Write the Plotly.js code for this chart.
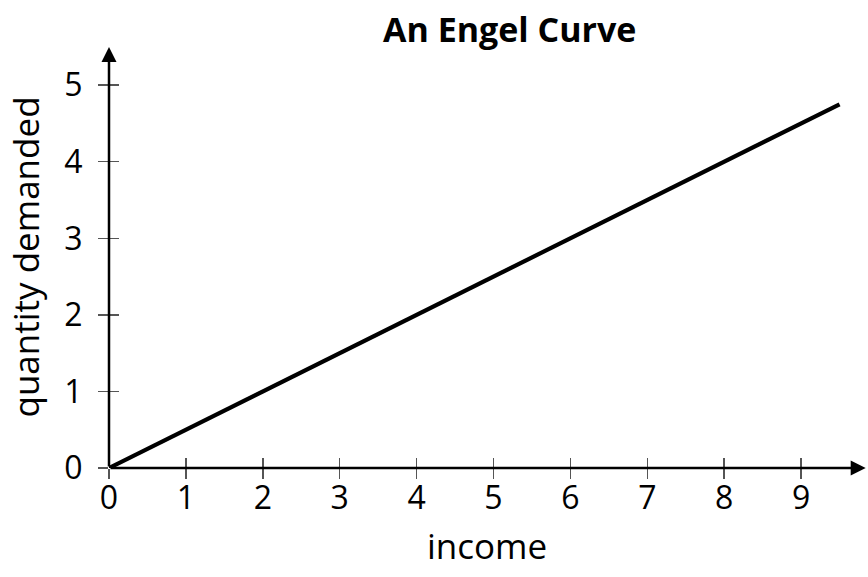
<!DOCTYPE html>
<html>
<head>
<meta charset="utf-8">
<script src="https://cdn.plot.ly/plotly-3.0.1.min.js"></script>
<style>html,body{margin:0;padding:0;background:#fff;}#chart{width:868px;height:577px;}</style>
</head>
<body>
<div id="chart"></div>
<script>
// Engel curve: quantity demanded rises linearly with income
const income = [0, 1, 2, 3, 4, 5, 6, 7, 8, 9, 9.5];
const quantity = [0, 0.5, 1, 1.5, 2, 2.5, 3, 3.5, 4, 4.5, 4.75];
const xTicks = [0, 1, 2, 3, 4, 5, 6, 7, 8, 9];
const yTicks = [0, 1, 2, 3, 4, 5];

const xMax = 9.87, yMax = 5.59;
const font = '"Open Sans", Lato, sans-serif';

const tickCommon = {
  showgrid: false, zeroline: false, showline: false,
  tickcolor: '#555', tickwidth: 1.5, ticklen: 10,
  tickfont: {family: font, size: 32, color: '#000'}
};

const layout = {
  width: 868, height: 577,
  margin: {l: 109, r: 0, t: 40, b: 109},
  paper_bgcolor: '#fff', plot_bgcolor: '#fff',
  showlegend: false,
  title: {text: '<b>An Engel Curve</b>', x: 0.528, xref: 'paper', y: 0.948, yref: 'container',
          xanchor: 'center', yanchor: 'middle', font: {family: font, size: 34, color: '#000'}},
  xaxis: Object.assign({}, tickCommon, {
    range: [0, xMax], tickvals: xTicks, ticktext: xTicks.map(String), ticks: 'outside',
    ticklabelstandoff: -8
  }),
  yaxis: Object.assign({}, tickCommon, {
    range: [0, yMax], tickvals: yTicks, ticktext: yTicks.map(String), ticks: 'outside',
    ticklabelstandoff: 9
  }),
  // overlaid axes carry the inner half of each tick so ticks cross the axis line
  xaxis2: Object.assign({}, tickCommon, {
    overlaying: 'x', range: [0, xMax], tickvals: xTicks, ticks: 'inside',
    showticklabels: false, side: 'bottom', anchor: 'y'
  }),
  yaxis2: Object.assign({}, tickCommon, {
    overlaying: 'y', range: [0, yMax], tickvals: yTicks, ticks: 'inside',
    showticklabels: false, side: 'left', anchor: 'x'
  }),
  annotations: [
    // axis lines with arrow heads
    {x: 9.84, y: 0, ax: 0, ay: 0, xref: 'x', yref: 'y', axref: 'x', ayref: 'y',
     text: '', showarrow: true, arrowhead: 2, arrowsize: 1.2, arrowwidth: 2.5, arrowcolor: '#000'},
    {x: 0, y: 5.5, ax: 0, ay: 0, xref: 'x', yref: 'y', axref: 'x', ayref: 'y',
     text: '', showarrow: true, arrowhead: 2, arrowsize: 1.2, arrowwidth: 2.5, arrowcolor: '#000'},
    // axis titles
    {text: 'income', xref: 'paper', yref: 'paper', x: 0.498, y: -0.18,
     xanchor: 'center', yanchor: 'middle', showarrow: false,
     font: {family: font, size: 35, color: '#000'}},
    {text: 'quantity demanded', xref: 'paper', yref: 'paper', x: -0.11, y: 0.493,
     xanchor: 'center', yanchor: 'middle', textangle: -90, showarrow: false,
     font: {family: font, size: 35, color: '#000'}}
  ]
};

const traces = [
  {x: [0], y: [0], xaxis: 'x2', yaxis: 'y2', mode: 'markers', marker: {opacity: 0}, hoverinfo: 'skip'},
  {x: income, y: quantity, mode: 'lines', line: {color: '#000', width: 4.2}, cliponaxis: false}
];

Plotly.newPlot('chart', traces, layout, {displayModeBar: false, staticPlot: true});
</script>
</body>
</html>
